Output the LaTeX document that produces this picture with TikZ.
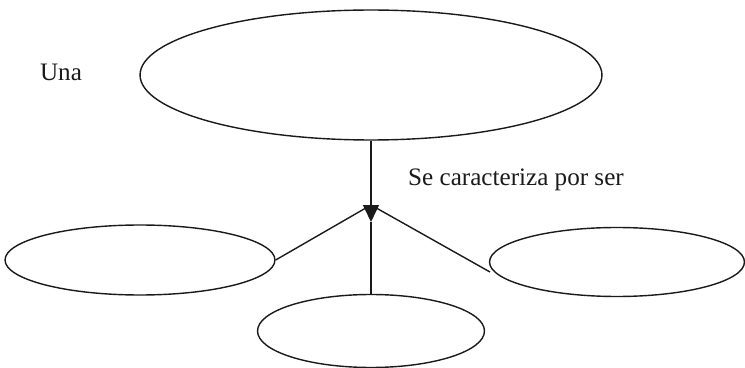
\documentclass[tikz,border=0pt]{standalone}
\usepackage{fontspec}
\setmainfont{Liberation Serif}
\usetikzlibrary{arrows.meta,calc,positioning,shapes.geometric}
\definecolor{ink}{HTML}{1A1A1A}
\tikzset{>=Latex,line width=.8pt,
  every node/.style={font=\fontsize{14.3}{17}\selectfont,text=ink},
  bubble/.style={ellipse,draw=ink,line width=.8pt,inner sep=0pt},
  link/.style={draw=ink,line width=.8pt},
  headtip/.style={-{Triangle[length=.34cm,width=.32cm]}}}
\begin{document}
\begin{tikzpicture}[x=0.02cm,y=-0.02cm]
\useasboundingbox (0,0) rectangle (745,368);
\node[bubble,minimum width=9.24cm,minimum height=2.6cm] (top) at (371,75) {};
\node[bubble,minimum width=5.4cm,minimum height=1.4cm] (left) at (140,260) {};
\node[bubble,minimum width=5.1cm,minimum height=1.38cm] (right) at (617,262) {};
\node[bubble,minimum width=4.54cm,minimum height=1.46cm] (bottom) at (371,331) {};
\node (una) at (61,72) {Una};
\node (verb) at (516,180) {Se caracteriza por ser};
\coordinate (J) at (371,205);\coordinate (tip) at (371,222);\coordinate (rend) at (490,272);
\draw[link] (top.south)--(J);\draw[link,headtip] (J)--(tip);\draw[link] (tip)--(bottom.north);
\draw[link] (J)--(left.east);\draw[link] (J)--(rend);
\end{tikzpicture}
\end{document}
